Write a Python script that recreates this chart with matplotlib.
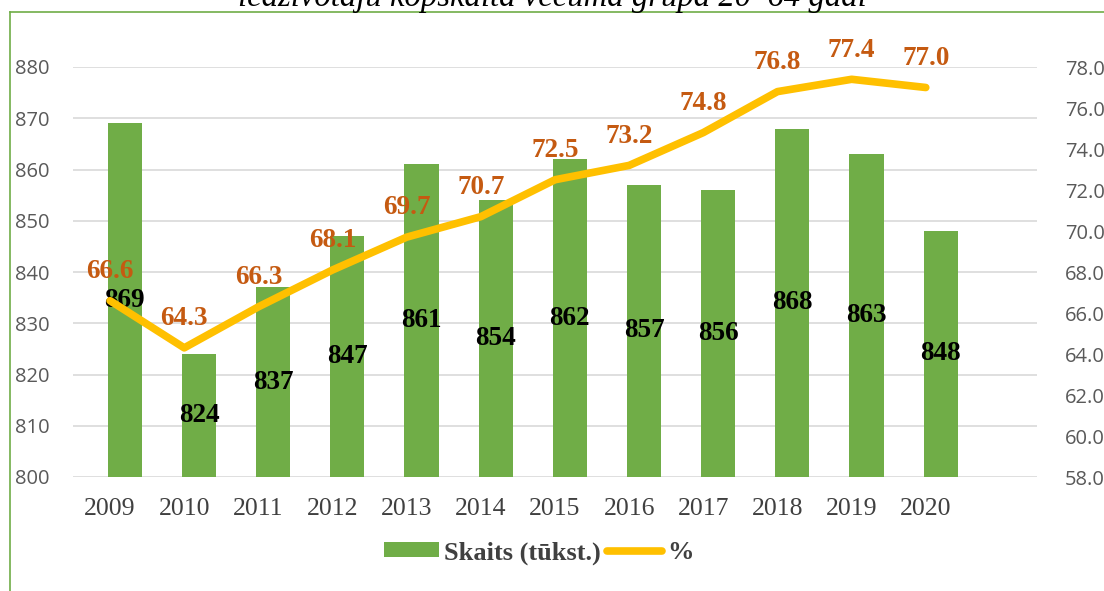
import numpy as np
import matplotlib
matplotlib.use('Agg')
import matplotlib.pyplot as plt
from matplotlib.lines import Line2D
from matplotlib.patches import Patch

# data
years = ['2009', '2010', '2011', '2012', '2013', '2014',
         '2015', '2016', '2017', '2018', '2019', '2020']
skaits = [869, 824, 837, 847, 861, 854, 862, 857, 856, 868, 863, 848]
procenti = [66.6, 64.3, 66.3, 68.1, 69.7, 70.7, 72.5, 73.2, 74.8, 76.8, 77.4, 77.0]
left_ticks = [800, 810, 820, 830, 840, 850, 860, 870, 880]
right_ticks = [58.0, 60.0, 62.0, 64.0, 66.0, 68.0, 70.0, 72.0, 74.0, 76.0, 78.0]

bar_col = '#70AD47'
line_col = '#FFC000'
lab_col = '#C55A11'
axis_col = '#595959'
grid_col = '#D9D9D9'
serif = 'Liberation Serif'
sans = 'Open Sans'

W, H = 1104, 591
fig = plt.figure(figsize=(W / 100, H / 100), dpi=100)
ax = fig.add_axes([73 / W, 1 - 477 / H, (1037 - 73) / W, (477 - 67) / H])
ax2 = ax.twinx()

x = np.arange(len(years))
ax.bar(x + 0.2, skaits, width=0.46, color=bar_col, zorder=2)
ax.set_ylim(800, 880)
ax.set_xlim(-0.5, 12.5)
ax.set_yticks(left_ticks)
ax.grid(axis='y', color=grid_col, lw=1.2, zorder=0)
ax.set_axisbelow(True)
for s in ax.spines.values():
    s.set_visible(False)
for s in ax2.spines.values():
    s.set_visible(False)
ax.tick_params(axis='y', length=0, pad=17, labelsize=14.5, labelcolor=axis_col)
ax.set_xticks(x)
ax.set_xticklabels(years, fontfamily=serif, fontsize=18.5, color='#404040')
ax.tick_params(axis='x', length=0, pad=15)
for t in ax.get_yticklabels():
    t.set_fontfamily(sans)

for xi, v in zip(x, skaits):
    ax.text(xi + 0.2, (800 + v) / 2, str(v), ha='center', va='center',
            fontfamily=serif, fontweight='bold', fontsize=19.5, color='black', zorder=5)

ax2.plot(x, procenti, color=line_col, lw=5.5, solid_capstyle='round',
         solid_joinstyle='round', zorder=3)
ax2.set_ylim(58, 78)
ax2.set_yticks(right_ticks)
ax2.set_yticklabels([f'{t:.1f}' for t in right_ticks], fontfamily=sans)
ax2.tick_params(axis='y', length=0, pad=20, labelsize=14.5, labelcolor=axis_col)
for xi, v in zip(x, procenti):
    ax2.annotate(f'{v:.1f}', (xi, v), xytext=(0, 21), textcoords='offset points',
                 ha='center', va='center', fontfamily=serif, fontweight='bold',
                 fontsize=19.5, color=lab_col, annotation_clip=False)

handles = [Patch(facecolor=bar_col, edgecolor='none'),
           Line2D([0], [0], color=line_col, lw=5.5, solid_capstyle='round')]
fig.legend(handles, ['Skaits (tūkst.)', '%'], loc='center', bbox_to_anchor=(0.488, 1 - 553 / H),
           ncol=2, frameon=False, handlelength=2.1, handleheight=0.5, handletextpad=0.2,
           columnspacing=0.2, prop={'family': serif, 'weight': 'bold', 'size': 19},
           labelcolor='#404040')

# chart border and clipped title
fig.add_artist(Line2D([10 / W, 10 / W], [0, 1 - 12 / H], color=bar_col, lw=1.2))
fig.add_artist(Line2D([10 / W, 1], [1 - 12 / H, 1 - 12 / H], color=bar_col, lw=1.2))
fig.text(0.5, 1 - 6 / H, 'iedzīvotāju kopskaitā vecuma grupā 20–64 gadi', ha='center',
         va='baseline', fontfamily=serif, style='italic', fontsize=23.6, color='black')

fig.savefig('out.png', dpi=100)
